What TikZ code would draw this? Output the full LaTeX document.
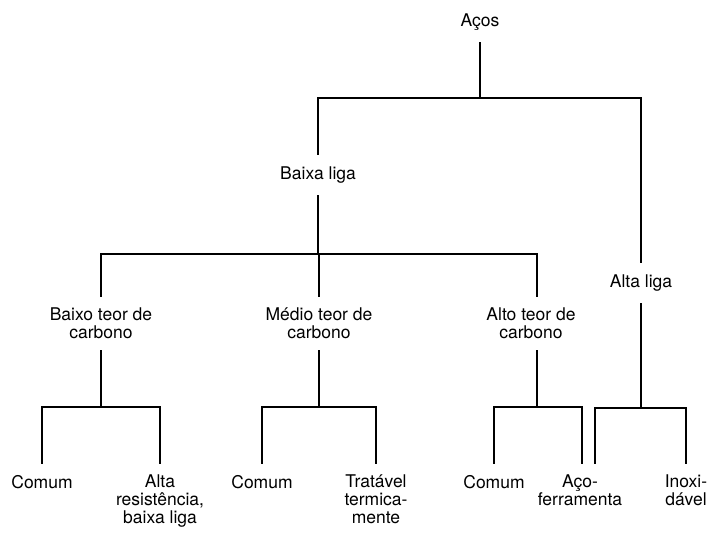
\documentclass[tikz,border=0pt]{standalone}
\usepackage{fontspec}
\setmainfont{TeX Gyre Heros}
\usepackage{tikz}

\begin{document}
\begin{tikzpicture}[x=1pt,y=-1pt,
	item/.style={font=\fontsize{17.5}{18}\selectfont,align=center,inner xsep=1pt,inner ysep=12pt,text=black},
	ramo/.style={line width=1.8pt,line cap=rect}]
	\useasboundingbox (0,0) rectangle (708,533);
	% classes
	\node[item] (acos) at (480,22) {Aços};
	\node[item] (baixa) at (318,175) {Baixa liga};
	\node[item] (alta) at (641,283) {Alta liga};
	\node[item] (baixoC) at (101,323.5) {Baixo teor de\\carbono};
	\node[item] (medioC) at (319,323.5) {Médio teor de\\carbono};
	\node[item] (altoC) at (531,323.5) {Alto teor de\\carbono};
	% folhas
	\node[item,anchor=north] (comum1) at (42,463) {Comum};
	\node[item,anchor=north] (altaRes) at (160,463) {Alta\\resistência,\\baixa liga};
	\node[item,anchor=north] (comum2) at (262,463) {Comum};
	\node[item,anchor=north] (tratavel) at (376,463) {Tratável\\termica-\\mente};
	\node[item,anchor=north] (comum3) at (494,463) {Comum};
	\node[item,anchor=north] (acoF) at (580,463) {Aço-\\ferramenta};
	\node[item,anchor=north] (inox) at (686,463) {Inoxi-\\dável};
	% ligacoes
	\draw[ramo] (acos) -- (acos |- 0,98) -| (baixa);
	\draw[ramo] (acos |- 0,98) -| (alta);
	\draw[ramo] (baixa) -- (baixa |- 0,254) -| (baixoC);
	\draw[ramo] (baixa |- 0,254) -| (medioC);
	\draw[ramo] (baixa |- 0,254) -| ([xshift=6pt]altoC.north);
	\draw[ramo] (baixoC) -- (baixoC |- 0,407) -| (comum1);
	\draw[ramo] (baixoC |- 0,407) -| (altaRes);
	\draw[ramo] (medioC) -- (medioC |- 0,407) -| (comum2);
	\draw[ramo] (medioC |- 0,407) -| (tratavel);
	\draw[ramo] ([xshift=6pt]altoC.south) -- ([xshift=6pt]altoC.south |- 0,407) -| (comum3);
	\draw[ramo] ([xshift=6pt]altoC.south |- 0,407) -| ([xshift=2pt]acoF.north);
	\draw[ramo] (alta) -- (alta |- 0,408) -| ([xshift=15pt]acoF.north);
	\draw[ramo] (alta |- 0,408) -| (inox);
\end{tikzpicture}
\end{document}
